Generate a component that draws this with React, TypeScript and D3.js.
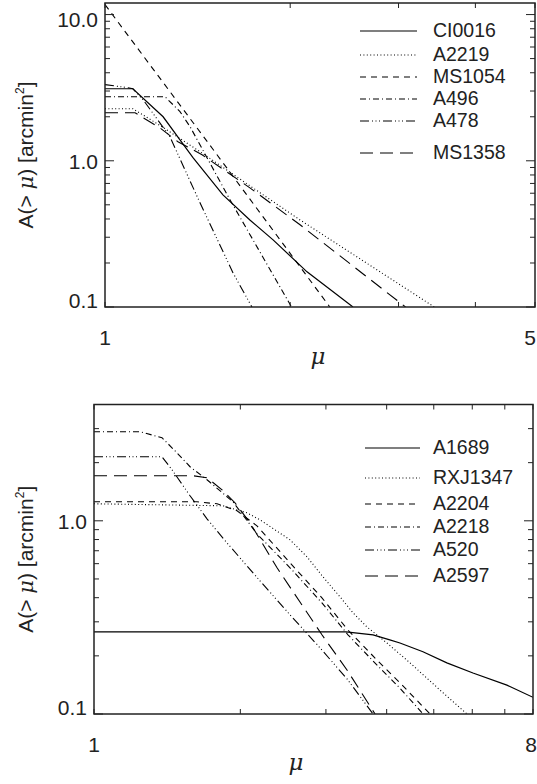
import React from "react";
import * as d3 from "d3";

type Pt = [number, number];

// ---------- data: top panel (mu, A(>mu) in arcmin^2) ----------
const CI0016: Pt[] = [[1, 3.11], [1.11, 3.11], [1.243, 2.0], [1.324, 1.39], [1.39, 1.05], [1.555, 0.585], [1.72, 0.394], [1.876, 0.288], [2.13, 0.174], [2.53, 0.1]];
const A2219: Pt[] = [[1, 2.27], [1.11, 2.27], [1.238, 1.71], [1.438, 1.13], [1.72, 0.674], [2.075, 0.394], [3.43, 0.1]];
const MS1054: Pt[] = [[1, 11.7], [1.5, 1.19], [2.32, 0.1]];
const A496: Pt[] = [[1, 2.74], [1.252, 2.74], [1.324, 2.17], [1.375, 1.71], [1.597, 0.54], [2.01, 0.1]];
const A478: Pt[] = [[1, 3.32], [1.09, 3.16], [1.11, 3.11], [1.153, 2.62], [1.275, 1.46], [1.427, 0.516], [1.615, 0.171], [1.733, 0.1]];
const MS1358: Pt[] = [[1, 2.13], [1.119, 2.13], [1.228, 1.68], [1.314, 1.35], [1.438, 1.1], [1.72, 0.653], [2.075, 0.365], [3.08, 0.1]];

// ---------- data: bottom panel ----------
const A1689: Pt[] = [[1, 0.266], [3.3, 0.266], [3.75, 0.257], [4.06, 0.242], [4.26, 0.233], [4.75, 0.21], [5.32, 0.184], [6.02, 0.163], [7.07, 0.141], [8, 0.122]];
const RXJ1347: Pt[] = [[1, 1.225], [1.843, 1.196], [2.064, 1.1], [2.195, 1.012], [2.531, 0.797], [2.743, 0.651], [2.958, 0.513], [3.207, 0.404], [3.41, 0.334], [3.645, 0.282], [4.006, 0.233], [4.467, 0.184], [5.15, 0.133], [5.852, 0.1]];
const A2204: Pt[] = [[1, 1.254], [1.629, 1.254], [1.791, 1.225], [1.969, 1.127], [2.164, 0.942], [2.531, 0.606], [2.944, 0.399], [3.33, 0.272], [3.822, 0.19], [4.261, 0.145], [4.912, 0.1]];
const A2218: Pt[] = [[1, 2.891], [1.243, 2.891], [1.38, 2.692], [1.481, 2.251], [1.576, 1.905], [1.708, 1.631], [1.932, 1.254], [2.164, 0.856], [2.531, 0.571], [2.944, 0.376], [3.33, 0.257], [3.822, 0.179], [4.261, 0.136], [4.752, 0.1]];
const A520: Pt[] = [[1, 2.146], [1.38, 2.146], [1.447, 1.838], [1.576, 1.348], [1.708, 1.024], [1.877, 0.769], [2.195, 0.489], [2.531, 0.326], [2.917, 0.22], [3.315, 0.152], [3.75, 0.1]];
const A2597: Pt[] = [[1, 1.711], [1.599, 1.711], [1.708, 1.671], [1.834, 1.447], [1.95, 1.24], [2.094, 0.976], [2.38, 0.571], [2.653, 0.38], [2.944, 0.257], [3.315, 0.169], [3.786, 0.1]];

const topNames = ["CI0016", "A2219", "MS1054", "A496", "A478", "MS1358"];
const topSeries = [CI0016, A2219, MS1054, A496, A478, MS1358];
const bottomNames = ["A1689", "RXJ1347", "A2204", "A2218", "A520", "A2597"];
const bottomSeries = [A1689, RXJ1347, A2204, A2218, A520, A2597];

const topXDomain = [1, 5];
const topYDomain = [0.1, 12];
const bottomXDomain = [1, 8];
const bottomYDomain = [0.1, 4];

const topXTickValues = [1, 5];
const topXTickLabels = ["1", "5"];
const topYTickValues = [0.1, 1, 10];
const topYTickLabels = ["0.1", "1.0", "10.0"];
const bottomXTickValues = [1, 8];
const bottomXTickLabels = ["1", "8"];
const bottomYTickValues = [0.1, 1];
const bottomYTickLabels = ["0.1", "1.0"];

// ---------- styles ----------
const DASHES = ["", "1 2.4", "6 5", "6 3 1 3", "9 3 1 2.5 1 2.5 1 3", "13 7"];
const FONT = "'Liberation Sans', Arial, Helvetica, sans-serif";
const TEXT = "#222";

type PanelProps = {
  id: string;
  left: number; right: number; top: number; bottom: number;
  xDomain: number[]; yDomain: number[];
  series: Pt[][]; names: string[];
  xTickValues: number[]; xTickLabels: string[];
  yTickValues: number[]; yTickLabels: string[];
  xLabelY: number; muX: number; muY: number;
  legendLineX: [number, number]; legendTextX: number; legendY: number[];
  yLabelDy: (v: number, i: number, n: number) => number;
  xLabelDx: (i: number, n: number) => number;
};

function Panel(p: PanelProps) {
  const x = d3.scaleLog().domain(p.xDomain).range([p.left, p.right]);
  const y = d3.scaleLog().domain(p.yDomain).range([p.bottom, p.top]);
  const line = d3.line<Pt>().x(d => x(d[0])).y(d => y(d[1]));
  const yTicks = y.ticks();
  const xTicks = x.ticks();
  const isMajor = (v: number) => Math.abs(Math.log10(v) - Math.round(Math.log10(v))) < 1e-9;
  const cy = (p.top + p.bottom) / 2;
  return (
    <g>
      <defs>
        <clipPath id={p.id}>
          <rect x={p.left} y={p.top} width={p.right - p.left} height={p.bottom - p.top} />
        </clipPath>
      </defs>
      <g clipPath={`url(#${p.id})`}>
        {p.series.map((s, i) => (
          <path key={i} d={line(s) || ""} fill="none" stroke="#000" strokeWidth={i === 0 ? 1.2 : 1.1}
            strokeDasharray={DASHES[i] || undefined} />
        ))}
      </g>
      {yTicks.map((v, i) => {
        const len = isMajor(v) ? 9 : 5;
        const yy = y(v);
        return (
          <g key={"y" + i} stroke="#222" strokeWidth={1}>
            <line x1={p.left} x2={p.left + len} y1={yy} y2={yy} />
            <line x1={p.right} x2={p.right - len} y1={yy} y2={yy} />
          </g>
        );
      })}
      {xTicks.map((v, i) => {
        const xx = x(v);
        return (
          <g key={"x" + i} stroke="#222" strokeWidth={1}>
            <line x1={xx} x2={xx} y1={p.bottom} y2={p.bottom - 5} />
            <line x1={xx} x2={xx} y1={p.top} y2={p.top + 5} />
          </g>
        );
      })}
      <rect x={p.left} y={p.top} width={p.right - p.left} height={p.bottom - p.top} fill="none" stroke="#222" strokeWidth={1.5} />
      {p.yTickValues.map((v, i) => (
        <text key={"yl" + i} x={p.left - 7} y={y(v) + p.yLabelDy(v, i, p.yTickValues.length)} textAnchor="end"
          fontFamily={FONT} fontSize={21} fill={TEXT}>{p.yTickLabels[i]}</text>
      ))}
      {p.xTickValues.map((v, i) => (
        <text key={"xl" + i} x={x(v) + p.xLabelDx(i, p.xTickValues.length)} y={p.xLabelY} textAnchor="middle"
          fontFamily={FONT} fontSize={21} fill={TEXT}>{p.xTickLabels[i]}</text>
      ))}
      <text x={p.muX} y={p.muY} textAnchor="middle" fontFamily="'DejaVu Serif', 'Liberation Serif', serif"
        fontStyle="italic" fontSize={23} fill={TEXT}>μ</text>
      <text transform={`translate(33,${cy}) rotate(-90)`} textAnchor="middle" fontFamily={FONT} fontSize={21} fill={TEXT}>
        A(&gt; <tspan fontFamily="'DejaVu Serif', 'Liberation Serif', serif" fontStyle="italic">μ</tspan>) [arcmin<tspan fontSize={12} dy={-9}>2</tspan><tspan dy={9}>]</tspan>
      </text>
      {p.names.map((n, i) => (
        <g key={"lg" + i}>
          <line x1={p.legendLineX[0]} x2={p.legendLineX[1]} y1={p.legendY[i] + 1} y2={p.legendY[i] + 1}
            stroke="#000" strokeWidth={1.1} strokeDasharray={DASHES[i] || undefined} />
          <text x={p.legendTextX} y={p.legendY[i] + 7} fontFamily={FONT} fontSize={19.5} fill={TEXT}>{n}</text>
        </g>
      ))}
    </g>
  );
}

export default function App() {
  return (
    <svg width={537} height={784} style={{ position: "absolute", left: 0, top: 0, background: "#fff" }}>
      <rect x={0} y={0} width={537} height={784} fill="#fff" />
      <Panel id="clipTop" left={105} right={535} top={3} bottom={307}
        xDomain={topXDomain} yDomain={topYDomain} series={topSeries} names={topNames}
        xTickValues={topXTickValues} xTickLabels={topXTickLabels}
        yTickValues={topYTickValues} yTickLabels={topYTickLabels}
        xLabelY={345} muX={318} muY={364}
        legendLineX={[360, 417]} legendTextX={433} legendY={[30, 54, 76, 98, 120, 152]}
        yLabelDy={(v, i, n) => (i === 0 ? 1 : i === n - 1 ? 12 : 8)}
        xLabelDx={(i, n) => (i === n - 1 ? -5 : 0)} />
      <Panel id="clipBottom" left={94} right={533} top={404.5} bottom={714}
        xDomain={bottomXDomain} yDomain={bottomYDomain} series={bottomSeries} names={bottomNames}
        xTickValues={bottomXTickValues} xTickLabels={bottomXTickLabels}
        yTickValues={bottomYTickValues} yTickLabels={bottomYTickLabels}
        xLabelY={752} muX={296} muY={770}
        legendLineX={[365, 420]} legendTextX={433} legendY={[447, 477, 503, 526, 549, 575]}
        yLabelDy={(v, i, n) => (i === 0 ? 1 : 8)}
        xLabelDx={(i, n) => (i === n - 1 ? -2 : 0)} />
    </svg>
  );
}
